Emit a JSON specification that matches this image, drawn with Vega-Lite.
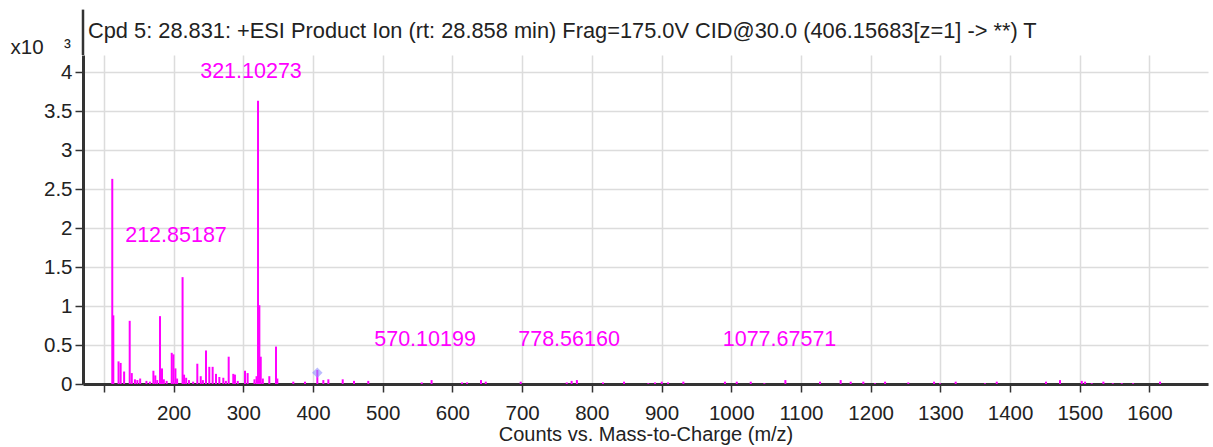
{
  "$schema": "https://vega.github.io/schema/vega-lite/v6.json",
  "width": 1125,
  "height": 329,
  "autosize": {"type": "none"},
  "padding": {"left": 83, "top": 55, "right": 5, "bottom": 63},
  "background": "white",
  "config": {
    "font": "Liberation Sans",
    "view": {"stroke": null},
    "axis": {
      "labelFont": "Liberation Sans",
      "titleFont": "Liberation Sans",
      "labelColor": "#222",
      "titleColor": "#222",
      "domainColor": "#333",
      "domainWidth": 3,
      "tickColor": "#333",
      "tickWidth": 1.5,
      "tickSize": 8,
      "grid": true,
      "gridColor": "#dcdcdc",
      "gridWidth": 1.5,
      "labelFontSize": 20.5,
      "titleFontSize": 20,
      "titleFontWeight": "normal"
    }
  },
  "title": {
    "text": "Cpd 5: 28.831: +ESI Product Ion (rt: 28.858 min) Frag=175.0V CID@30.0 (406.15683[z=1] -> **) T",
    "anchor": "start",
    "frame": "group",
    "font": "Liberation Sans",
    "fontSize": 21.8,
    "fontWeight": "normal",
    "color": "#222",
    "dx": 5,
    "dy": 42,
    "offset": 8
  },
  "datasets": {
    "peaks": [
      {"mz": 112.0, "intensity": 2.63},
      {"mz": 113.5, "intensity": 0.88},
      {"mz": 121.0, "intensity": 0.29},
      {"mz": 124.0, "intensity": 0.27},
      {"mz": 129.0, "intensity": 0.16},
      {"mz": 137.0, "intensity": 0.81},
      {"mz": 140.0, "intensity": 0.14},
      {"mz": 144.5, "intensity": 0.06},
      {"mz": 148.0, "intensity": 0.05},
      {"mz": 152.0, "intensity": 0.07},
      {"mz": 161.0, "intensity": 0.04},
      {"mz": 166.0, "intensity": 0.03},
      {"mz": 171.0, "intensity": 0.17},
      {"mz": 173.7, "intensity": 0.11},
      {"mz": 176.5, "intensity": 0.05},
      {"mz": 180.5, "intensity": 0.87},
      {"mz": 183.3, "intensity": 0.2},
      {"mz": 186.0, "intensity": 0.06},
      {"mz": 190.0, "intensity": 0.04},
      {"mz": 197.3, "intensity": 0.4},
      {"mz": 199.7, "intensity": 0.38},
      {"mz": 202.6, "intensity": 0.2},
      {"mz": 205.0, "intensity": 0.07},
      {"mz": 212.85, "intensity": 1.37},
      {"mz": 215.0, "intensity": 0.12},
      {"mz": 218.0, "intensity": 0.08},
      {"mz": 222.0, "intensity": 0.05},
      {"mz": 228.0, "intensity": 0.03},
      {"mz": 234.0, "intensity": 0.26},
      {"mz": 238.9, "intensity": 0.1},
      {"mz": 242.0, "intensity": 0.05},
      {"mz": 246.5, "intensity": 0.43},
      {"mz": 251.2, "intensity": 0.22},
      {"mz": 256.0, "intensity": 0.22},
      {"mz": 260.8, "intensity": 0.13},
      {"mz": 265.6, "intensity": 0.09},
      {"mz": 271.3, "intensity": 0.08},
      {"mz": 275.0, "intensity": 0.04},
      {"mz": 279.0, "intensity": 0.35},
      {"mz": 285.6, "intensity": 0.13},
      {"mz": 288.0, "intensity": 0.12},
      {"mz": 292.0, "intensity": 0.04},
      {"mz": 302.4, "intensity": 0.17},
      {"mz": 306.2, "intensity": 0.14},
      {"mz": 316.0, "intensity": 0.06},
      {"mz": 319.0, "intensity": 0.1},
      {"mz": 321.1, "intensity": 3.63},
      {"mz": 323.0, "intensity": 1.01},
      {"mz": 325.0, "intensity": 0.35},
      {"mz": 328.0, "intensity": 0.07},
      {"mz": 337.3, "intensity": 0.1},
      {"mz": 346.9, "intensity": 0.48},
      {"mz": 348.8, "intensity": 0.07},
      {"mz": 371.7, "intensity": 0.03},
      {"mz": 388.5, "intensity": 0.03},
      {"mz": 406.2, "intensity": 0.18},
      {"mz": 414.8, "intensity": 0.05},
      {"mz": 422.0, "intensity": 0.06},
      {"mz": 442.6, "intensity": 0.06},
      {"mz": 458.8, "intensity": 0.04},
      {"mz": 479.3, "intensity": 0.04},
      {"mz": 556.0, "intensity": 0.02},
      {"mz": 570.1, "intensity": 0.05},
      {"mz": 613.8, "intensity": 0.02},
      {"mz": 621.0, "intensity": 0.02},
      {"mz": 641.0, "intensity": 0.05},
      {"mz": 647.8, "intensity": 0.03},
      {"mz": 698.0, "intensity": 0.03},
      {"mz": 764.0, "intensity": 0.02},
      {"mz": 771.0, "intensity": 0.04},
      {"mz": 778.56, "intensity": 0.05},
      {"mz": 816.0, "intensity": 0.02},
      {"mz": 846.2, "intensity": 0.03},
      {"mz": 881.0, "intensity": 0.01},
      {"mz": 890.7, "intensity": 0.02},
      {"mz": 900.3, "intensity": 0.03},
      {"mz": 909.3, "intensity": 0.02},
      {"mz": 931.3, "intensity": 0.03},
      {"mz": 991.0, "intensity": 0.03},
      {"mz": 1007.9, "intensity": 0.03},
      {"mz": 1028.0, "intensity": 0.03},
      {"mz": 1047.5, "intensity": 0.01},
      {"mz": 1077.68, "intensity": 0.05},
      {"mz": 1127.4, "intensity": 0.03},
      {"mz": 1157.0, "intensity": 0.05},
      {"mz": 1171.4, "intensity": 0.03},
      {"mz": 1189.5, "intensity": 0.03},
      {"mz": 1206.3, "intensity": 0.01},
      {"mz": 1220.7, "intensity": 0.03},
      {"mz": 1254.0, "intensity": 0.02},
      {"mz": 1291.0, "intensity": 0.03},
      {"mz": 1299.5, "intensity": 0.01},
      {"mz": 1322.0, "intensity": 0.03},
      {"mz": 1364.0, "intensity": 0.01},
      {"mz": 1380.9, "intensity": 0.03},
      {"mz": 1451.6, "intensity": 0.03},
      {"mz": 1471.7, "intensity": 0.05},
      {"mz": 1502.9, "intensity": 0.04},
      {"mz": 1507.6, "intensity": 0.03},
      {"mz": 1517.2, "intensity": 0.01},
      {"mz": 1533.9, "intensity": 0.03},
      {"mz": 1547.4, "intensity": 0.01},
      {"mz": 1560.3, "intensity": 0.01},
      {"mz": 1576.5, "intensity": 0.01},
      {"mz": 1615.2, "intensity": 0.03}
    ],
    "labels": [
      {"label": "321.10273", "mz": 311, "intensity": 4.0},
      {"label": "212.85187", "mz": 203.4, "intensity": 1.9},
      {"label": "570.10199", "mz": 560.7, "intensity": 0.56},
      {"label": "778.56160", "mz": 767.3, "intensity": 0.56},
      {"label": "1077.67571", "mz": 1069.3, "intensity": 0.56}
    ],
    "precursor": [
      {"mz": 406.16, "intensity": 0.145}
    ]
  },
  "layer": [
    {
      "data": {"name": "peaks"},
      "mark": {"type": "rule", "color": "#ff00ff", "strokeWidth": 2},
      "encoding": {
        "x": {
          "field": "mz",
          "type": "quantitative",
          "scale": {"domain": [70, 1684], "nice": false, "zero": false},
          "axis": {
            "values": [100, 200, 300, 400, 500, 600, 700, 800, 900, 1000, 1100, 1200, 1300, 1400, 1500, 1600],
            "format": "d",
            "labelExpr": "datum.value == 100 ? '' : datum.label",
            "grid": true,
            "labelPadding": 11,
            "title": "Counts vs. Mass-to-Charge (m/z)",
            "titlePadding": 1
          }
        },
        "y": {
          "field": "intensity",
          "type": "quantitative",
          "scale": {"domain": [0, 4.218], "nice": false},
          "axis": {
            "values": [0, 0.5, 1, 1.5, 2, 2.5, 3, 3.5, 4],
            "format": "~g",
            "grid": true,
            "labelPadding": 3,
            "title": "x10\u2003\u00b3",
            "titleFontSize": 20.5,
            "titleAngle": 0,
            "titleAlign": "left",
            "titleBaseline": "alphabetic",
            "titleX": -73,
            "titleY": -2
          }
        },
        "y2": {"datum": 0}
      }
    },
    {
      "data": {"name": "precursor"},
      "mark": {"type": "rule", "color": "#333", "strokeWidth": 2.5, "clip": false},
      "encoding": {
        "x": {"datum": 70, "type": "quantitative"},
        "y": {"datum": 4.218, "type": "quantitative"},
        "y2": {"datum": 4.8}
      }
    },
    {
      "data": {"name": "precursor"},
      "mark": {"type": "point", "shape": "diamond", "filled": true, "color": "#8f8fff", "opacity": 0.6, "size": 110},
      "encoding": {
        "x": {"field": "mz", "type": "quantitative"},
        "y": {"field": "intensity", "type": "quantitative"}
      }
    },
    {
      "data": {"name": "labels"},
      "mark": {"type": "text", "color": "#ff00ff", "fontSize": 21.5, "font": "Liberation Sans", "align": "center", "baseline": "middle"},
      "encoding": {
        "x": {"field": "mz", "type": "quantitative"},
        "y": {"field": "intensity", "type": "quantitative"},
        "text": {"field": "label"}
      }
    }
  ]
}
